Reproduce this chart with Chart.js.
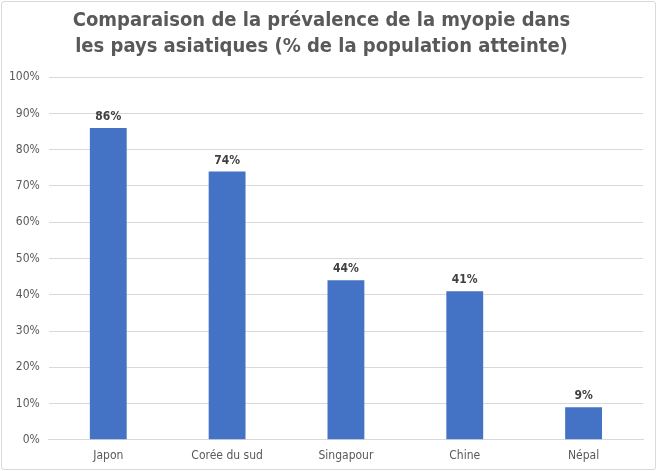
<!DOCTYPE html>
<html>
<head>
<meta charset="utf-8">
<script src="https://cdn.jsdelivr.net/npm/chart.js@4"></script>
<style>
  html, body { margin: 0; padding: 0; background: #fff; }
  #wrap { position: relative; width: 657px; height: 471px; }
  #frame { position: absolute; left: 1px; top: 1px; right: 1px; bottom: 1px; border: 1px solid #d9d9d9; border-radius: 3px; }
  canvas { position: absolute; left: 0; top: 0; }
</style>
</head>
<body>
<div id="wrap">
  <div id="frame"></div>
  <canvas id="myopiaChart" width="657" height="471"></canvas>
</div>
<script>
const countries = ['Japon', 'Corée du sud', 'Singapour', 'Chine', 'Népal'];
const prevalence = [86, 74, 44, 41, 9];
const yTicks = [0, 10, 20, 30, 40, 50, 60, 70, 80, 90, 100];

const font = "'DejaVu Sans Condensed', 'DejaVu Sans', sans-serif";
const grey = '#595959';

// data labels above each bar
const barLabels = {
    id: 'barLabels',
    afterDatasetsDraw(chart) {
        const c = chart.ctx;
        const meta = chart.getDatasetMeta(0);
        c.save();
        c.font = 'bold 12px ' + font;
        c.fillStyle = '#404040';
        c.textAlign = 'center';
        c.textBaseline = 'bottom';
        meta.data.forEach((bar, i) => {
            c.fillText(prevalence[i] + '%', bar.x, bar.y - 5);
        });
        c.restore();
    }
};

const ctx = document.getElementById('myopiaChart').getContext('2d');

const myopiaChart = new Chart(ctx, {
    type: 'bar',
    data: {
        labels: countries,
        datasets: [{
            data: prevalence,
            backgroundColor: '#4472C4',
            categoryPercentage: 1,
            barPercentage: 0.31,
        }]
    },
    options: {
        responsive: false,
        animation: false,
        layout: { padding: { left: 0, right: 14, top: 0, bottom: 0 } },
        plugins: {
            legend: { display: false },
            tooltip: { enabled: false },
            title: {
                display: true,
                text: ['Comparaison de la prévalence de la myopie dans', 'les pays asiatiques (% de la population atteinte)'],
                color: grey,
                font: { family: font, size: 20, weight: 'bold', lineHeight: 1.33 },
                padding: { top: 7, bottom: 17 }
            }
        },
        scales: {
            x: {
                grid: { display: false, drawTicks: false },
                border: { color: '#d9d9d9' },
                ticks: { color: grey, font: { family: font, size: 12, lineHeight: 1.1 }, padding: 9 }
            },
            y: {
                min: 0,
                max: 100,
                afterBuildTicks(axis) {
                    axis.ticks = yTicks.map(v => ({ value: v }));
                },
                grid: { color: '#d9d9d9', drawTicks: false },
                border: { display: false },
                ticks: {
                    color: grey,
                    font: { family: font, size: 12 },
                    padding: 9,
                    callback: v => v + '%'
                }
            }
        }
    },
    plugins: [barLabels]
});
</script>
</body>
</html>
